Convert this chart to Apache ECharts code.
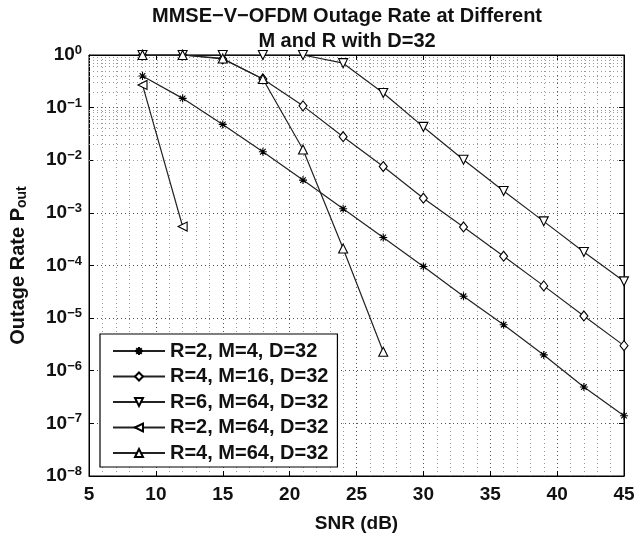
<!DOCTYPE html>
<html><head><meta charset="utf-8">
<script src="https://cdn.jsdelivr.net/npm/echarts@6/dist/echarts.min.js"></script>
<style>html,body{margin:0;padding:0;background:#fff}#c{width:640px;height:538px}</style>
</head><body><div id="c"></div>
<script>
const titleLines = ['MMSE\u2212V\u2212OFDM Outage Rate at Different', 'M and R with D=32'];
const xName = 'SNR (dB)';
const seriesNames = ['R=2, M=4, D=32', 'R=4, M=16, D=32', 'R=6, M=64, D=32', 'R=2, M=64, D=32', 'R=4, M=64, D=32'];
const snrFull = [9, 12, 15, 18, 21, 24, 27, 30, 33, 36, 39, 42, 45];
const r2m4 = [0.4, 0.15, 0.048, 0.0145, 0.0042, 0.0012, 3.4e-4, 9.6e-5, 2.6e-5, 7.5e-6, 2.0e-6, 4.9e-7, 1.4e-7];
const r4m16 = [1, 1, 0.84, 0.35, 0.108, 0.028, 0.0076, 0.0019, 5.4e-4, 1.5e-4, 4.1e-5, 1.1e-5, 3.0e-6];
const r6m64 = [1, 1, 1, 1, 1, 0.7, 0.19, 0.043, 0.0102, 0.0026, 6.9e-4, 1.8e-4, 5.0e-5];
const snrR2M64 = [9, 12];
const r2m64 = [0.27, 5.5e-4];
const snrR4M64 = [9, 12, 15, 18, 21, 24, 27];
const r4m64 = [1, 1, 0.86, 0.35, 0.016, 2.1e-4, 2.3e-6];
const minorGridValues = [];
for (let e = -8; e < 0; e++) for (let m = 2; m <= 9; m++) minorGridValues.push(m * Math.pow(10, e));

const FONT = '"Liberation Sans", Arial, sans-serif';
const sym = {
  star: 'path://M5,0 L5,10 M0,5 L10,5 M1.5,1.5 L8.5,8.5 M8.5,1.5 L1.5,8.5',
  down: 'path://M0,0 L10,0 L5,9 Z',
  left: 'path://M0,5 L9,0 L9,10 Z',
  up: 'path://M5,0 L10,9 L0,9 Z',
  diamond: 'path://M5,0 L10,6 L5,12 L0,6 Z'
};
function pairs(xs, ys) { return xs.map((x, i) => [x, ys[i]]); }
function mk(name, xs, ys, symbol, size) {
  return {
    name, type: 'line', data: pairs(xs, ys), symbol, symbolSize: size,
    lineStyle: { color: '#222', width: 1.2 },
    itemStyle: { color: symbol === sym.star ? '#000' : '#fff', borderColor: '#000', borderWidth: 1.1 },
    z: 5, animation: false
  };
}
const chart = echarts.init(document.getElementById('c'), null, { renderer: 'canvas' });
const yLab = v => { const e = Math.round(Math.log10(v)); return '{b|10}{s|' + (e < 0 ? '\u2212' + (-e) : e) + '}'; };
chart.setOption({
  animation: false,
  backgroundColor: '#fff',
  textStyle: { fontFamily: FONT },
  title: {
    text: titleLines.join('\n'), left: 342, top: -1, textAlign: 'center',
    textStyle: { fontFamily: FONT, fontSize: 20, fontWeight: 'bold', color: '#111', lineHeight: 25 }
  },
  grid: { left: 89, right: 16, top: 55, bottom: 55, show: true, borderColor: '#000', borderWidth: 1 },
  legend: {
    data: seriesNames, orient: 'vertical', left: 100, top: 334,
    backgroundColor: '#fff', borderColor: '#000', borderWidth: 1.2, borderRadius: 0,
    padding: [7, 9, 4, 12], itemWidth: 52, itemHeight: 10, itemGap: 5.5,
    textStyle: { fontFamily: FONT, fontSize: 20, fontWeight: 'bold', color: '#111' }
  },
  xAxis: [{
    type: 'value', min: 5, max: 45, interval: 5,
    name: xName, nameLocation: 'middle', nameGap: 38,
    nameTextStyle: { fontFamily: FONT, fontSize: 19, fontWeight: 'bold', color: '#111' },
    axisLine: { show: true, lineStyle: { color: '#000' } },
    axisTick: { inside: true, length: 5, lineStyle: { color: '#000' } },
    axisLabel: { fontFamily: FONT, fontSize: 19, fontWeight: 'bold', color: '#111', margin: 9 },
    splitLine: { show: true, lineStyle: { color: '#555', type: [1, 3], width: 1 } },
    minorTick: { show: false, splitNumber: 5 },
    minorSplitLine: { show: true, lineStyle: { color: '#999', type: [1, 3], width: 1 } }
  }, {
    type: 'value', min: 5, max: 45, interval: 5, position: 'top',
    axisLine: { show: true, lineStyle: { color: '#000' } },
    axisTick: { inside: true, length: 5, lineStyle: { color: '#000' } },
    axisLabel: { show: false }, splitLine: { show: false }
  }],
  yAxis: [{
    type: 'log', logBase: 10, min: 1e-8, max: 1, splitNumber: 8,
    name: '{n|Outage Rate P}{sub|out}', nameLocation: 'middle', nameGap: 60, nameRotate: 90,
    nameTextStyle: { rich: {
      n: { fontFamily: FONT, fontSize: 20, fontWeight: 'bold', color: '#111' },
      sub: { fontFamily: FONT, fontSize: 14, fontWeight: 'bold', color: '#111', verticalAlign: 'bottom', padding: [7, 0, 0, 0] }
    } },
    axisLine: { show: true, lineStyle: { color: '#000' } },
    axisTick: { inside: true, length: 5, lineStyle: { color: '#000' } },
    axisLabel: { formatter: yLab, margin: 7, rich: {
      b: { fontFamily: FONT, fontSize: 19, fontWeight: 'bold', color: '#111' },
      s: { fontFamily: FONT, fontSize: 13, fontWeight: 'bold', color: '#111', verticalAlign: 'top', padding: [0, 0, 9, 0] }
    } },
    splitLine: { show: true, lineStyle: { color: '#555', type: [1, 3], width: 1 } }
  }, {
    type: 'log', logBase: 10, min: 1e-8, max: 1, splitNumber: 8, position: 'right',
    axisLine: { show: true, lineStyle: { color: '#000' } },
    axisTick: { inside: true, length: 5, lineStyle: { color: '#000' } },
    axisLabel: { show: false }, splitLine: { show: false }
  }],
  series: [
    {
      name: 'minorgrid', type: 'line', data: [], silent: true, z: 1,
      markLine: {
        silent: true, symbol: 'none', animation: false, label: { show: false },
        lineStyle: { color: '#999', type: [1, 3], width: 1 },
        data: minorGridValues.map(v => ({ yAxis: v }))
      }
    },
    mk(seriesNames[0], snrFull, r2m4, sym.star, 8),
    mk(seriesNames[1], snrFull, r4m16, sym.diamond, [8, 10]),
    mk(seriesNames[2], snrFull, r6m64, sym.down, 9),
    mk(seriesNames[3], snrR2M64, r2m64, sym.left, 9),
    mk(seriesNames[4], snrR4M64, r4m64, sym.up, 9)
  ]
});
</script></body></html>
